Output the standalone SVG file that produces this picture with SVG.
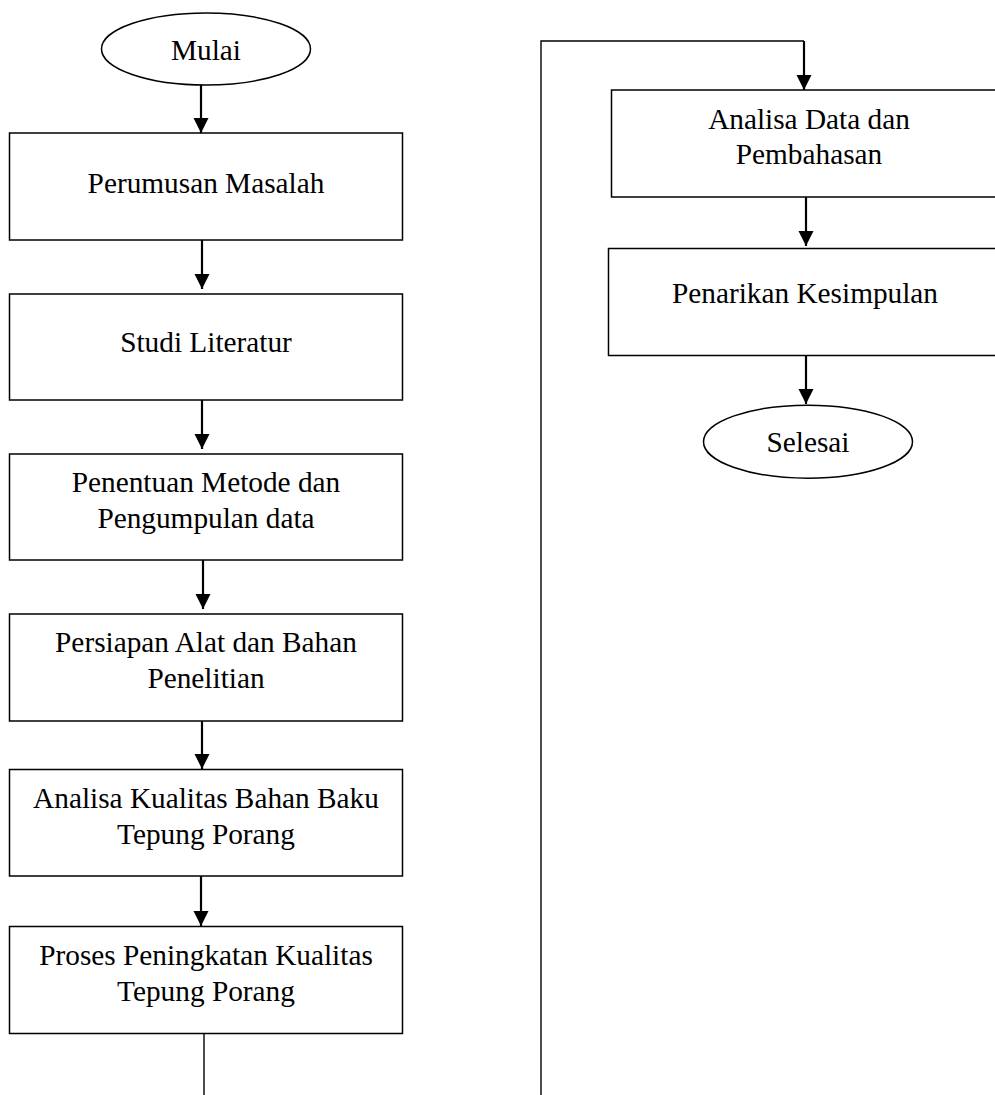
<svg xmlns="http://www.w3.org/2000/svg" width="995" height="1095" viewBox="0 0 995 1095">
<style>
.box{fill:#fff;stroke:#000;stroke-width:1.5}
.t{font-family:"Liberation Serif","Times New Roman",serif;font-size:29.3px;fill:#000;text-anchor:middle}
.arr{stroke:#000;stroke-width:2.2;fill:none;marker-end:url(#ah)}
.thin{stroke:#000;stroke-width:1.4;fill:none}
</style>
<defs>
<marker id="ah" markerUnits="userSpaceOnUse" markerWidth="15" markerHeight="16" refX="15" refY="7.5" orient="auto" viewBox="0 0 15 15">
<path d="M0,0 L15,7.5 L0,15 z" fill="#000"/>
</marker>
</defs>
<rect width="995" height="1095" fill="#fff"/>
<g id="connectors">
<line class="arr" x1="201" y1="85" x2="201" y2="133"/>
<line class="arr" x1="202" y1="240" x2="202" y2="289"/>
<line class="arr" x1="202" y1="400" x2="202" y2="449"/>
<line class="arr" x1="203" y1="560" x2="203" y2="609"/>
<line class="arr" x1="202" y1="721" x2="202" y2="769"/>
<line class="arr" x1="201" y1="876" x2="201" y2="926"/>
<line class="thin" x1="204" y1="1033" x2="204" y2="1095"/>
<polyline class="thin" points="541,1095 541,41 804,41"/>
<line class="arr" x1="804" y1="41" x2="804" y2="90"/>
<line class="arr" x1="806" y1="197" x2="806" y2="246"/>
<line class="arr" x1="806" y1="355" x2="806" y2="404"/>
</g>
<g id="mulai">
<ellipse class="box" cx="206" cy="49" rx="104.5" ry="36"/>
<text class="t" x="206" y="60">Mulai</text>
</g>
<g id="perumusan">
<rect class="box" x="9.5" y="133" width="393" height="107"/>
<text class="t" x="206" y="193">Perumusan Masalah</text>
</g>
<g id="studi">
<rect class="box" x="9.5" y="294" width="393" height="106"/>
<text class="t" x="206" y="352">Studi Literatur</text>
</g>
<g id="penentuan">
<rect class="box" x="9.5" y="454" width="393" height="106"/>
<text class="t" x="206" y="492">Penentuan Metode dan</text>
<text class="t" x="206" y="528">Pengumpulan data</text>
</g>
<g id="persiapan">
<rect class="box" x="9.5" y="614" width="393" height="107"/>
<text class="t" x="206" y="652">Persiapan Alat dan Bahan</text>
<text class="t" x="206" y="687.5">Penelitian</text>
</g>
<g id="analisa-kualitas">
<rect class="box" x="9.5" y="769.5" width="393" height="106.5"/>
<text class="t" x="206" y="808">Analisa Kualitas Bahan Baku</text>
<text class="t" x="206" y="843.5">Tepung Porang</text>
</g>
<g id="proses">
<rect class="box" x="9.5" y="926.5" width="393" height="107"/>
<text class="t" x="206" y="965">Proses Peningkatan Kualitas</text>
<text class="t" x="206" y="1001">Tepung Porang</text>
</g>
<g id="analisa-data">
<rect class="box" x="611.5" y="90" width="395" height="107"/>
<text class="t" x="809" y="128.5">Analisa Data dan</text>
<text class="t" x="809" y="164">Pembahasan</text>
</g>
<g id="penarikan">
<rect class="box" x="608.5" y="248.5" width="395" height="107"/>
<text class="t" x="805" y="303">Penarikan Kesimpulan</text>
</g>
<g id="selesai">
<ellipse class="box" cx="808" cy="441.7" rx="104.5" ry="36.5"/>
<text class="t" x="808" y="452">Selesai</text>
</g>
</svg>
